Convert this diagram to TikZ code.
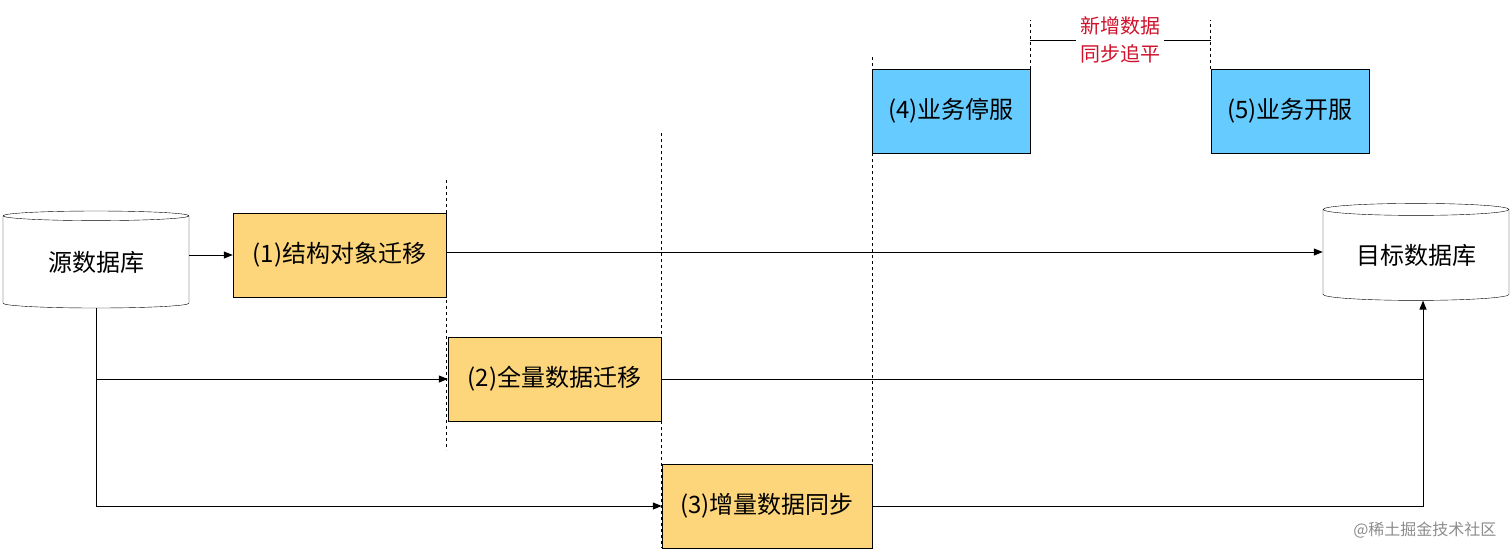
\documentclass[tikz,border=0pt]{standalone}
\usepackage{fontspec}
\setmainfont{Noto Sans CJK SC}
\usetikzlibrary{arrows.meta, shapes.geometric, positioning}
\tikzset{>={Triangle[length=9pt,width=7pt]}}
\definecolor{stepyellow}{HTML}{FDD57A}
\definecolor{stepblue}{HTML}{66CCFF}
\definecolor{noteRed}{HTML}{D0112B}
\tikzset{
  dbnode/.style={cylinder, shape border rotate=90, aspect=0.1, draw, fill=white,
    minimum width=186pt, minimum height=97pt, inner sep=0pt, font=\fontsize{24}{28}\selectfont},
  stagebox/.style={draw, fill=stepyellow, minimum width=213pt, minimum height=84pt,
    inner sep=0pt, font=\fontsize{24}{28}\selectfont},
  servbox/.style={draw, fill=stepblue, minimum width=158pt, minimum height=84pt,
    inner sep=0pt, font=\fontsize{24}{28}\selectfont},
  cut/.style={dashed, line width=0.9pt},
  flow/.style={line width=1pt}
}
\begin{document}
\begin{tikzpicture}[x=1pt, y=-1pt]
\useasboundingbox (0,0) rectangle (1512,558);
% databases
\node[dbnode] (src) at (96,262) {源数据库};
\node[dbnode] (dst) at (1416,255) {目标数据库};
% stages
\node[stagebox] (s1) at (339.5,255) {(1)结构对象迁移};
\node[stagebox] (s2) at (554.5,379) {(2)全量数据迁移};
\node[stagebox, minimum width=210pt] (s3) at (767,506) {(3)增量数据同步};
\node[servbox] (s4) at (951,111) {(4)业务停服};
\node[servbox] (s5) at (1290,111) {(5)业务开服};
% time cuts
\draw[cut] (446,180) -- (446,450);
\draw[cut] (661,133) -- (661,548);
\draw[cut] (872,57) -- (872,548);
\draw[cut] (s4.north east) -- ++(0,-49);
\draw[cut] (s5.north west) -- ++(0,-49);
\node[text=noteRed, align=center, font=\fontsize{20}{28}\selectfont] (note) at (1120,40) {新增数据\\同步追平};
\draw[flow] (1030,40) -- (note.west);
\draw[flow] (note.east) -- (1211,40);
% flows
\draw[flow, ->] (src.east |- s1.west) -- (s1.west);
\draw[flow, ->] (s1.east |- 0,252) -- (dst.west |- 0,252);
\coordinate (split) at (src.bottom |- s2.west);
\draw[flow, ->] (src.bottom) -- (src.bottom |- s3.west) -- (s3.west);
\draw[flow, ->] (split) -- (s2.west);
\coordinate (join) at (dst.bottom -| 1423,0);
\draw[flow] (s2.east) -- (1423,379);
\draw[flow, ->] (s3.east) -- (1423,506) -- (join);
\node[text=black!45, font=\fontsize{16}{20}\selectfont, anchor=east] (mark) at (1500,530) {@稀土掘金技术社区};
\end{tikzpicture}
\end{document}
